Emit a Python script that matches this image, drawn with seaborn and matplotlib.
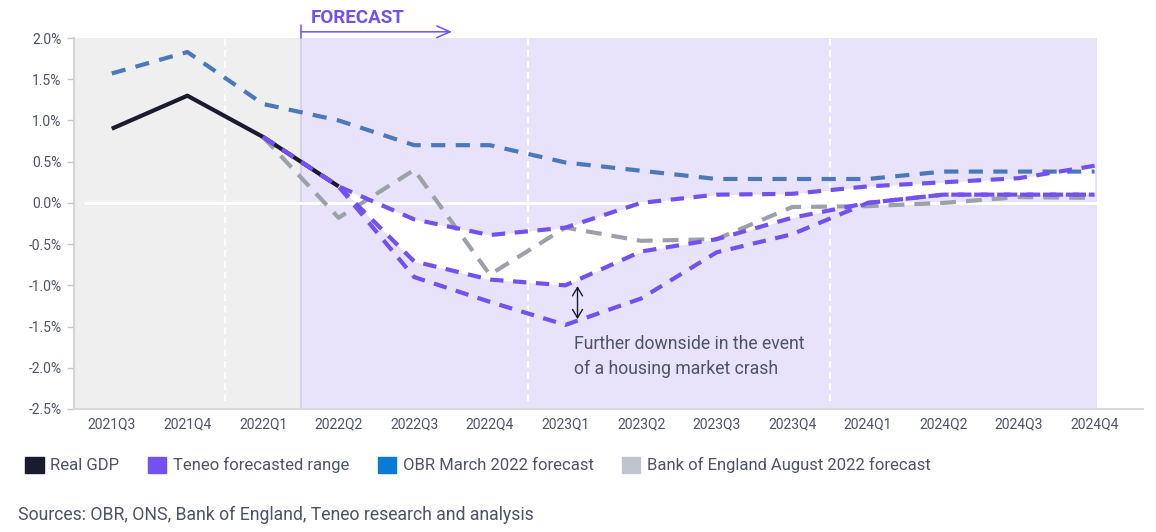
import numpy as np
import pandas as pd
import matplotlib
matplotlib.use("Agg")
import matplotlib.pyplot as plt
from matplotlib.patches import Patch
import seaborn as sns

quarters = ["2021Q3", "2021Q4", "2022Q1", "2022Q2", "2022Q3", "2022Q4", "2023Q1",
            "2023Q2", "2023Q3", "2023Q4", "2024Q1", "2024Q2", "2024Q3", "2024Q4"]
real_gdp = [0.9, 1.3, 0.8, 0.2] + [None] * 10
obr_march_2022 = [1.57, 1.83, 1.2, 1.0, 0.7, 0.7, 0.49, 0.39, 0.29, 0.29, 0.29, 0.38, 0.38, 0.38]
boe_aug_2022 = [None, None, 0.8, -0.18, 0.4, -0.87, -0.3, -0.46, -0.44, -0.05, -0.04, 0.0, 0.07, 0.06]
teneo_upper = [None, None, 0.8, 0.2, -0.2, -0.39, -0.3, 0.0, 0.1, 0.11, 0.2, 0.25, 0.3, 0.45]
teneo_lower = [None, None, 0.8, 0.2, -0.71, -0.93, -1.0, -0.59, -0.44, -0.18, 0.0, 0.1, 0.1, 0.1]
teneo_crash = [None, None, 0.8, 0.2, -0.9, -1.2, -1.48, -1.16, -0.6, -0.38, 0.0, 0.1, 0.1, 0.1]
yticks = [2.0, 1.5, 1.0, 0.5, 0.0, -0.5, -1.0, -1.5, -2.0, -2.5]
legend_labels = ["Real GDP", "Teneo forecasted range", "OBR March 2022 forecast",
                 "Bank of England August 2022 forecast"]

df = pd.DataFrame({
    "q": np.arange(len(quarters)),
    "real": real_gdp, "obr": obr_march_2022, "boe": boe_aug_2022,
    "up": teneo_upper, "low": teneo_lower, "crash": teneo_crash,
}).astype(float)

sns.set_theme(style="white")
plt.rcParams["font.family"] = ["Roboto", "DejaVu Sans"]

TXT = "#4e5366"
PURPLE = "#7350f0"
BLUE = "#4a78b8"
GRAY = "#9ca1a9"
NAVY = "#1a1b2e"

fig = plt.figure(figsize=(11.56, 5.32), dpi=100)
ax = fig.add_axes([74 / 1156, 123 / 532, 1069 / 1156, 371 / 532])
ax.set_xlim(-0.5, 13.64)
ax.set_ylim(-2.5, 2.0)

# backgrounds
ax.axvspan(-0.5, 2.5, color="#efefef", lw=0, zorder=0)
ax.axvspan(2.5, 13.03, color="#e8e3fa", lw=0, zorder=0)
ax.axvline(2.5, color="#d6d0f0", lw=1.5, zorder=0.5)
ax.hlines(0, -0.37, 13.03, color="white", lw=2.2, zorder=1)
for xv in [1.5, 5.5, 9.5]:
    ax.vlines(xv, -2.4, 2.0, color="white", lw=1.6, linestyles=(0, (3, 2)), zorder=1)

# Teneo range fill
m = df["up"].notna() & (df["q"] >= 3)
ax.fill_between(df.loc[m, "q"], df.loc[m, "up"], df.loc[m, "low"], color="white", lw=0, zorder=1.5)

def line(col, color, dashes, lw, z):
    d = df[["q", col]].dropna()
    sns.lineplot(data=d, x="q", y=col, ax=ax, color=color, lw=lw, zorder=z,
                 legend=False, errorbar=None, estimator=None, sort=False)
    ln = ax.lines[-1]
    if dashes is not None:
        ln.set_dashes(dashes)
    ln.set_solid_capstyle("butt")
    ln.set_dash_capstyle("butt")

line("obr", BLUE, (3.4, 2.5), 3.0, 3)
line("boe", GRAY, (3.8, 2.4), 3.0, 3)
line("real", NAVY, None, 3.0, 4)
line("up", PURPLE, (3.2, 2.3), 3.0, 5)
line("low", PURPLE, (3.2, 2.3), 3.0, 5)
line("crash", PURPLE, (3.2, 2.3), 3.0, 5)

# axes styling
ax.set_xticks(df["q"])
ax.set_xticklabels(quarters)
ax.set_yticks(yticks)
ax.set_yticklabels([f"{v:.1f}%" for v in yticks])
ax.set_xlabel("")
ax.set_ylabel("")
ax.tick_params(axis="y", colors="#c8c9d2", labelcolor=TXT, labelsize=10, length=5, width=1, pad=4, left=True)
ax.tick_params(axis="x", labelcolor=TXT, labelsize=10, length=0, pad=6)
for s in ["top", "right"]:
    ax.spines[s].set_visible(False)
ax.spines["left"].set_color("#d4d4da")
ax.spines["left"].set_linewidth(1.5)
ax.spines["bottom"].set_color("#d8d8dd")
ax.spines["bottom"].set_linewidth(1.5)

# FORECAST marker
ax.annotate("", xy=(4.5, 2.075), xytext=(2.5, 2.075), annotation_clip=False,
            arrowprops=dict(arrowstyle="->,head_length=0.8,head_width=0.35", color=PURPLE, lw=1.1,
                            shrinkA=0, shrinkB=0))
ax.plot([2.5, 2.5], [2.0, 2.16], color=PURPLE, lw=1.1, clip_on=False)
ax.text(2.63, 2.24, "FORECAST", color=PURPLE, fontsize=13.5, fontweight="bold",
        ha="left", va="center", clip_on=False)

# downside annotation
ax.annotate("", xy=(6.16, -1.01), xytext=(6.16, -1.41),
            arrowprops=dict(arrowstyle="<->,head_length=0.5,head_width=0.3", color=NAVY, lw=1,
                            shrinkA=0, shrinkB=0), zorder=6)
ax.text(6.12, -1.6, "Further downside in the event\nof a housing market crash",
        color=TXT, fontsize=12.7, ha="left", va="top", linespacing=1.5)

# legend
handles = [Patch(color=c) for c in [NAVY, PURPLE, "#0a7bd4", "#c0c4cc"]]
leg = fig.legend(handles, legend_labels, loc="center left", bbox_to_anchor=(0.009, 1 - 465 / 532),
                 ncol=4, frameon=False, fontsize=12, handlelength=1.1, handleheight=1.1,
                 handletextpad=0.4, columnspacing=1.7, labelcolor=TXT)

fig.text(18 / 1156, 1 - 515 / 532, "Sources: OBR, ONS, Bank of England, Teneo research and analysis",
         color=TXT, fontsize=12.7, ha="left", va="center")

fig.savefig("out.png", dpi=100)
